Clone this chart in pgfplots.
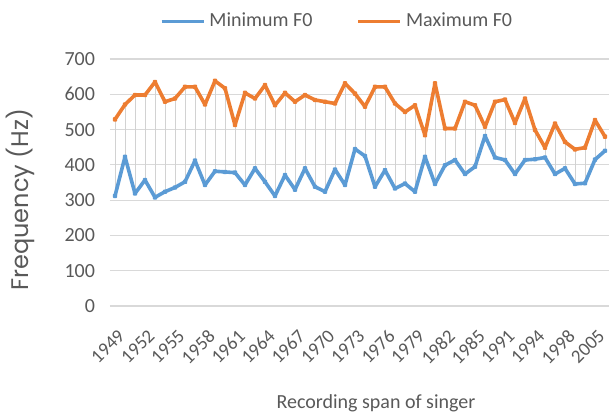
\documentclass[border=0pt]{standalone}
\usepackage{fontspec}
\setmainfont{Carlito}
\newfontfamily\ylabfont{Poppins}
\usepackage{pgfplots}
\usepackage{pgfplotstable}
\pgfplotsset{compat=1.18}

\definecolor{minblue}{RGB}{91,155,213}
\definecolor{maxorange}{RGB}{237,125,49}
\definecolor{txtgray}{RGB}{89,89,89}
\definecolor{gridgray}{RGB}{217,217,217}

% idx  minimum  maximum
\pgfplotstableread{
x  min  max
0  312  529
1  423  571
2  319  598
3  357  598
4  308  635
5  324  579
6  336  588
7  352  621
8  412  621
9  343  571
10 382  638
11 380  617
12 378  513
13 343  604
14 390  588
15 352  626
16 312  569
17 371  604
18 330  579
19 390  598
20 338  584
21 324  579
22 387  574
23 343  631
24 445  602
25 425  565
26 338  621
27 385  621
28 333  574
29 347  550
30 324  569
31 423  484
32 346  631
33 399  503
34 414  503
35 374  579
36 395  569
37 482  508
38 421  579
39 414  585
40 374  519
41 414  588
42 416  499
43 421  449
44 374  517
45 390  465
46 346  444
47 348  449
48 415  527
49 440  480
}\fzero

\begin{document}
\begin{tikzpicture}
\begin{axis}[
  scale only axis,
  width=250pt, height=123.5pt,
  xmin=-0.5, xmax=49.5,
  ymin=0, ymax=700, ytick distance=100,
  /pgf/number format/assume math mode=true,
  xtick={0,3,...,48},
  xticklabels={1949,1952,1955,1958,1961,1964,1967,1970,1973,1976,1979,1982,1985,1991,1994,1998,2005},
  xticklabel style={xshift=1pt, yshift=-11pt, rotate=45, anchor=north east,
    font=\fontsize{9.5}{10}\selectfont, text=txtgray, inner sep=0pt},
  yticklabel style={font=\fontsize{10}{11}\selectfont, text=txtgray, xshift=-4pt},
  major tick length=0pt,
  axis line style={draw=none},
  ymajorgrids, grid style={gridgray, line width=0.6pt},
  xlabel={Recording span of singer},
  xlabel style={font=\fontsize{10}{11}\selectfont, text=txtgray, at={(axis description cs:0.532,-0.395)}, anchor=center},
  ylabel={Frequency (Hz)},
  ylabel style={font=\ylabfont\fontsize{12}{13}\selectfont, text=txtgray, at={(axis description cs:-0.18,0.43)}, anchor=center},
  legend style={draw=none, fill=none, at={(axis description cs:0.456,1.152)}, anchor=center,
    font=\fontsize{10}{11}\selectfont, text=txtgray, inner sep=0pt},
  legend columns=2,
  /tikz/every even column/.append style={column sep=20pt},
  legend image code/.code={\draw[#1, line width=1.8pt] (0pt,0pt) -- (21pt,0pt);},
]
\coordinate (bl) at (rel axis cs:-0.22,-0.429);
\coordinate (tr) at (rel axis cs:0.998,1.239);
% high-low lines between the two series
\addplot[draw=none, mark=none, forget plot,
  error bars/.cd, y dir=plus, y explicit,
  error mark=none, error bar style={gray!35, line width=0.4pt}]
  table[x=x, y=min, y error expr=\thisrow{max}-\thisrow{min}] {\fzero};
\addplot[minblue, line width=1.8pt, line join=round, mark=*, mark size=0.45pt,
  mark options={draw=none, fill=white!60!minblue}]
  table[x=x, y=min] {\fzero};
\addlegendentry{Minimum F0}
\addplot[maxorange, line width=1.8pt, line join=round, mark=*, mark size=0.45pt,
  mark options={draw=none, fill=white!60!maxorange}]
  table[x=x, y=max] {\fzero};
\addlegendentry{Maximum F0}
\end{axis}
\pgfresetboundingbox
\useasboundingbox (bl) rectangle (tr);
\end{tikzpicture}
\end{document}
